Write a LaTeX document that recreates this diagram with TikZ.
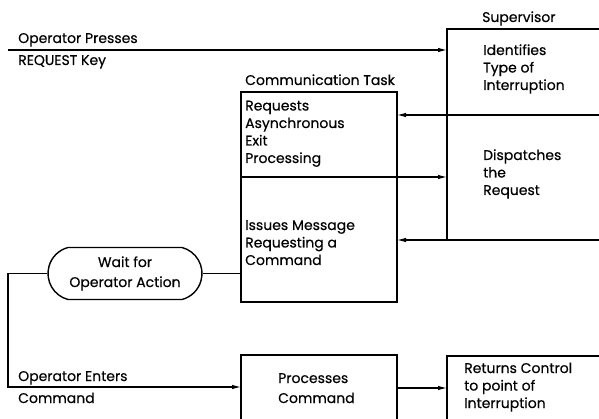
\documentclass[tikz,border=0pt]{standalone}
\usepackage{fontspec}
\setmainfont{Poppins}[FakeBold=0.4]
\usetikzlibrary{arrows.meta,shapes.misc,positioning}

\begin{document}
\begin{tikzpicture}[x=1pt,y=-1pt,line join=miter,
  box/.style={line width=1.4pt},
  flow/.style={line width=1.1pt,-{Latex[length=9pt,width=4.5pt]}},
  txt/.style={anchor=base west,align=left,inner sep=0pt,font=\fontsize{14}{17.5}\selectfont},
  waitbox/.style={draw,line width=1.4pt,rounded rectangle,rounded rectangle arc length=150,
    minimum width=154pt,minimum height=52pt,inner sep=0pt,align=center,font=\fontsize{14}{20}\selectfont}]
  \useasboundingbox (0,0) rectangle (599,419);
  % box corners
  \coordinate (SupNW) at (447,29);  \coordinate (SupNE) at (599,29);
  \coordinate (SupSW) at (447,240);
  \coordinate (SupME) at (599,115); \coordinate (SupSE) at (599,240);
  \coordinate (CommNW) at (241,92); \coordinate (CommNE) at (397,92);
  \coordinate (CommSW) at (241,302);\coordinate (CommSE) at (397,302);
  \coordinate (CommW) at (241,177); \coordinate (CommE) at (397,177);
  \coordinate (ProcNW) at (241,355);\coordinate (ProcNE) at (397,355);
  \coordinate (RetNW) at (447,356);
  \coordinate (PressStart) at (8,50);
  \coordinate (EnterTurn) at (8,387);
  % boxes
  \draw[box] (SupNE) -- (SupNW) -- (SupSW);
  \draw[box] (CommNW) rectangle (CommSE);
  \draw[box] (CommW) -- (CommE);
  \draw[box] (ProcNW |- 0,419) -- (ProcNW) -- (ProcNE) -- (ProcNE |- 0,419);
  \draw[box] (RetNW |- 0,419) -- (RetNW) -- (599,356);
  \node[waitbox] (wait) at (125,273.5) {Wait for\\Operator Action};
  % texts (base = last line)
  \node[txt] (suplabel) at (482,22) {Supervisor};
  \node[txt] (ident) at (483,90) {Identifies\\Type of\\Interruption};
  \node[txt] (dispatch) at (483,195) {Dispatches\\the\\Request};
  \node[txt] (commlabel) at (245,85) {Communication Task};
  \node[txt] (asyncreq) at (245,163) {Requests\\Asynchronous\\Exit\\Processing};
  \node[txt] (issues) at (245,265) {Issues Message\\Requesting a\\Command};
  \node[txt] (presses) at (18,43) {Operator Presses};
  \node[txt] (reqkey) at (18,65) {REQUEST Key};
  \node[txt] (enters) at (18,381) {Operator Enters};
  \node[txt] (command) at (18,403) {Command};
  \node[txt,font=\fontsize{14}{20}\selectfont] (process) at (278,403) {Processes\\Command};
  \node[txt] (returns) at (464,408) {Returns Control\\to point of\\Interruption};
  % connectors
  \draw[flow] (PressStart) -- (PressStart -| SupNW);
  \draw[flow] (SupME) -- (SupME -| CommNE);
  \draw[flow] (CommE) -- (CommE -| SupNW);
  \draw[flow] (SupSE) -- (SupSE -| CommNE);
  \draw[line width=1.1pt] (wait.east) -- (wait.east -| CommNW);
  \draw[flow] (wait.west) -- (wait.west -| EnterTurn) -- (EnterTurn) -- (EnterTurn -| ProcNW);
  \draw[flow] (ProcNE |- 0,388) -- (RetNW |- 0,388);
\end{tikzpicture}
\end{document}
